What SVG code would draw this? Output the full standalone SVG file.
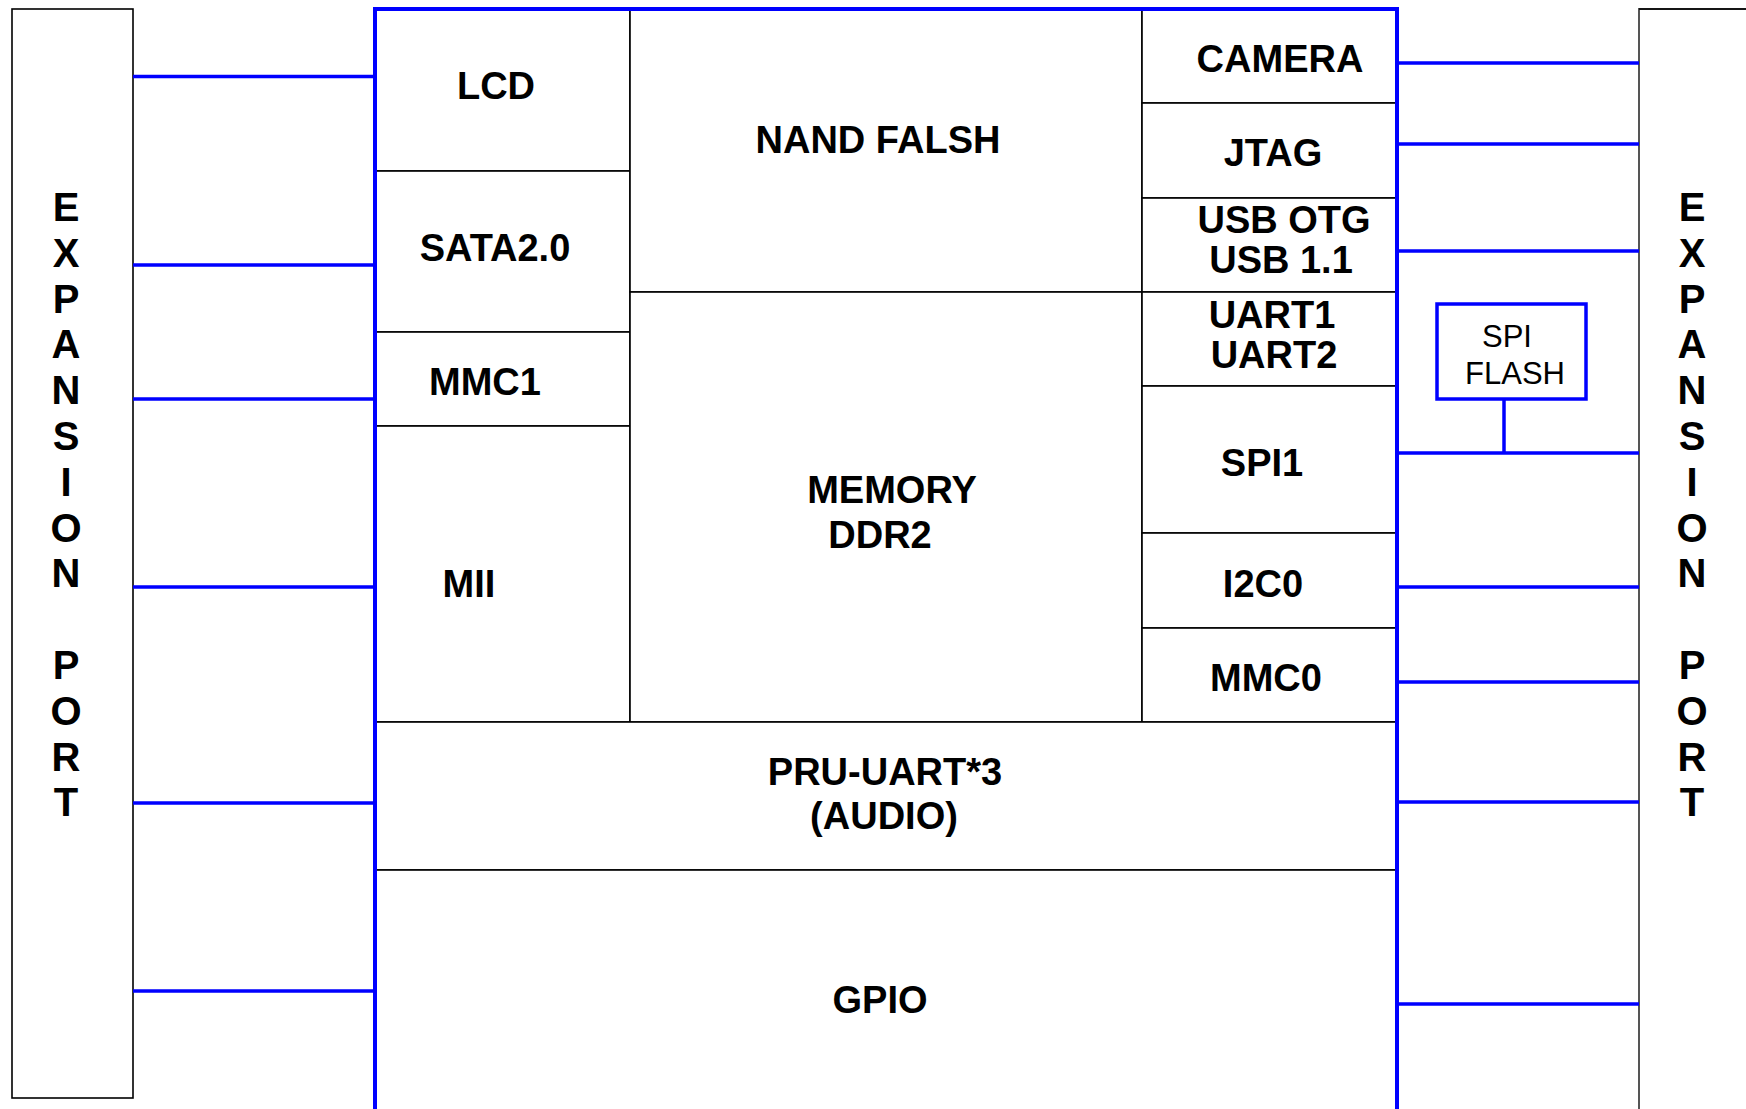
<svg xmlns="http://www.w3.org/2000/svg" width="1746" height="1109" viewBox="0 0 1746 1109">
<style>
.box{fill:#fff;stroke:#000;stroke-width:1.6}
.lbl{font-family:"Liberation Sans",Arial,sans-serif;font-weight:bold;font-size:38px;fill:#000;text-anchor:middle}
.port{font-family:"Liberation Sans",Arial,sans-serif;font-weight:bold;font-size:40px;fill:#000;text-anchor:middle}
.small{font-family:"Liberation Sans",Arial,sans-serif;font-size:31px;fill:#000;text-anchor:middle}
.bus{stroke:#0000ff;stroke-width:4;fill:none}
.wire{stroke:#0000ff;stroke-width:3.5;fill:none}
</style>
<rect width="1746" height="1109" fill="#fff"/>

<g id="expansion-left">
<rect x="12" y="9" width="121" height="1089" fill="#fff" stroke="#000" stroke-width="1.6"/>
<text class="port" x="66"><tspan x="66" y="221">E</tspan><tspan x="66" y="267">X</tspan><tspan x="66" y="313">P</tspan><tspan x="66" y="358">A</tspan><tspan x="66" y="404">N</tspan><tspan x="66" y="450">S</tspan><tspan x="66" y="496">I</tspan><tspan x="66" y="542">O</tspan><tspan x="66" y="587">N</tspan><tspan x="66" y="679">P</tspan><tspan x="66" y="725">O</tspan><tspan x="66" y="771">R</tspan><tspan x="66" y="816">T</tspan></text>
</g>

<g id="expansion-right">
<path d="M1639,1112 V9 H1750" fill="#fff" stroke="#555" stroke-width="2"/>
<path d="M1639,9 H1750" fill="none" stroke="#000" stroke-width="1.6"/>
<text class="port" x="1692"><tspan x="1692" y="221">E</tspan><tspan x="1692" y="267">X</tspan><tspan x="1692" y="313">P</tspan><tspan x="1692" y="358">A</tspan><tspan x="1692" y="404">N</tspan><tspan x="1692" y="450">S</tspan><tspan x="1692" y="496">I</tspan><tspan x="1692" y="542">O</tspan><tspan x="1692" y="587">N</tspan><tspan x="1692" y="679">P</tspan><tspan x="1692" y="725">O</tspan><tspan x="1692" y="771">R</tspan><tspan x="1692" y="816">T</tspan></text>
</g>

<g id="lcd"><rect class="box" x="376" y="10" width="254" height="161"/><text class="lbl" x="496" y="99">LCD</text></g>
<g id="sata"><rect class="box" x="376" y="171" width="254" height="161"/><text class="lbl" x="495" y="261">SATA2.0</text></g>
<g id="mmc1"><rect class="box" x="376" y="332" width="254" height="94"/><text class="lbl" x="485" y="395">MMC1</text></g>
<g id="mii"><rect class="box" x="376" y="426" width="254" height="296"/><text class="lbl" x="469" y="597">MII</text></g>
<g id="nand"><rect class="box" x="630" y="10" width="512" height="282"/><text class="lbl" x="878" y="153">NAND FALSH</text></g>
<g id="memory"><rect class="box" x="630" y="292" width="512" height="430"/><text class="lbl" x="892" y="503">MEMORY</text><text class="lbl" x="880" y="548">DDR2</text></g>
<g id="camera"><rect class="box" x="1142" y="10" width="255" height="93"/><text class="lbl" x="1280" y="72">CAMERA</text></g>
<g id="jtag"><rect class="box" x="1142" y="103" width="255" height="95"/><text class="lbl" x="1273" y="166">JTAG</text></g>
<g id="usb"><rect class="box" x="1142" y="198" width="255" height="94"/><text class="lbl" x="1284" y="233">USB OTG</text><text class="lbl" x="1281" y="273">USB 1.1</text></g>
<g id="uart"><rect class="box" x="1142" y="292" width="255" height="94"/><text class="lbl" x="1272" y="328">UART1</text><text class="lbl" x="1274" y="368">UART2</text></g>
<g id="spi1"><rect class="box" x="1142" y="386" width="255" height="147"/><text class="lbl" x="1262" y="476">SPI1</text></g>
<g id="i2c0"><rect class="box" x="1142" y="533" width="255" height="95"/><text class="lbl" x="1263" y="597">I2C0</text></g>
<g id="mmc0"><rect class="box" x="1142" y="628" width="255" height="94"/><text class="lbl" x="1266" y="691">MMC0</text></g>
<g id="pru"><rect class="box" x="376" y="722" width="1021" height="148"/><text class="lbl" x="885" y="785">PRU-UART*3</text><text class="lbl" x="884" y="829">(AUDIO)</text></g>
<g id="gpio"><rect class="box" x="376" y="870" width="1021" height="260"/><text class="lbl" x="880" y="1013">GPIO</text></g>

<g id="spi-flash"><rect x="1437" y="304" width="149" height="95" fill="#fff" stroke="#0000ff" stroke-width="3.5"/><text class="small" x="1507" y="347">SPI</text><text class="small" x="1515" y="384">FLASH</text></g>

<g id="connectors">
<path class="bus" d="M375,1112 V9 H1397 V1112"/>
<path class="wire" d="M133,76.5 H375 M133,265 H375 M133,399 H375 M133,587 H375 M133,803 H375 M133,991 H375"/>
<path class="wire" d="M1397,63 H1639 M1397,144 H1639 M1397,251 H1639 M1397,453 H1639 M1397,587 H1639 M1397,682 H1639 M1397,802 H1639 M1397,1004 H1639"/>
<path class="wire" d="M1504,399 V453"/>
</g>
</svg>
